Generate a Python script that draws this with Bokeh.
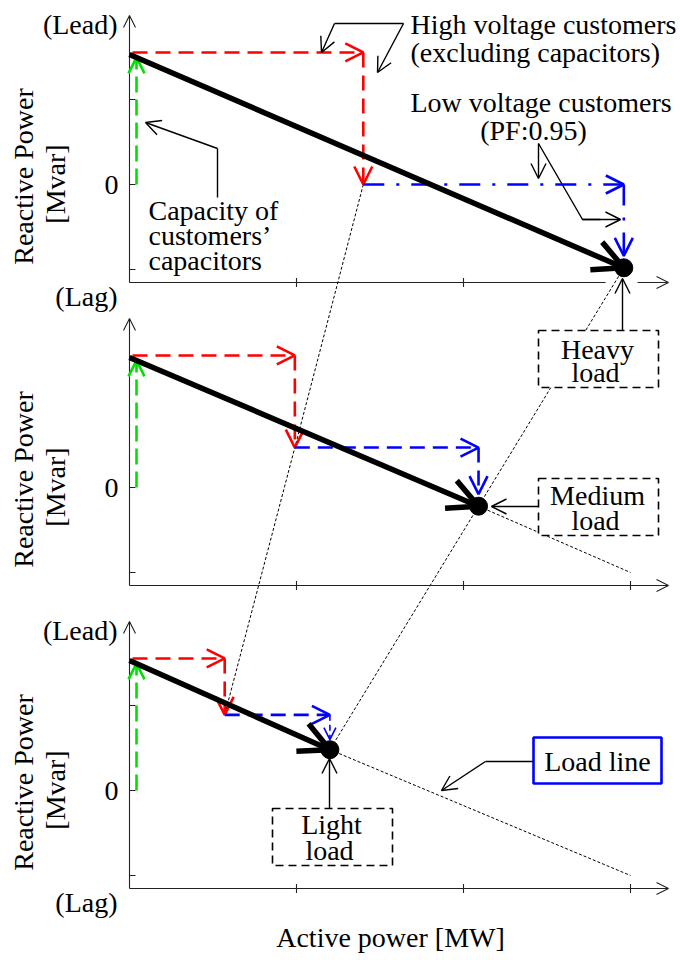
import numpy as np
from bokeh.plotting import figure
from bokeh.models import Range1d, Arrow, OpenHead, ColumnDataSource
from bokeh.core.properties import value
from bokeh.embed import file_html
from bokeh.resources import INLINE

# ---------------- data (one axis tick = 1 unit) ----------------
load_levels = ["Heavy load", "Medium load", "Light load"]
capacitor_q = [1.53, 1.53, 1.53]      # customers' capacitors (lead)
hv_p = [1.40, 0.99, 0.57]             # high voltage customers, active power
hv_q = [-1.53, -1.06, -0.64]          # high voltage customers, reactive power
lv_p = [1.56, 1.10, 0.63]             # low voltage customers (PF 0.95), active
lv_q = [-0.98, -0.69, -0.41]          # low voltage customers, reactive
load_line_end_p = [3.0, 3.0, 3.0]
load_line_end_q = [-1.0, -1.0, -1.0]
x_ticks = [[1, 2], [1, 2, 3], [1, 2, 3]]
y_ticks = [[1, 0, -1], [0, -1], [1, 0, -1]]

# derived
hv_end_q = [c + q for c, q in zip(capacitor_q, hv_q)]
total_p = [a + b for a, b in zip(hv_p, lv_p)]
total_q = [h + q for h, q in zip(hv_end_q, lv_q)]

# ---------------- layout ----------------
W, H = 680, 960
X0 = 129.0      # px of P = 0
XU = 167.0      # px per P unit
YU = 85.0       # px per Q unit
ZERO = [184.0, 487.0, 790.0]   # px of Q = 0 in each panel
FONT = value("Liberation Serif")
FS = "28px"


def fx(px):
    return (px - X0) / XU


def fy(py):
    return (ZERO[0] - py) / YU


def off(k):
    return (ZERO[0] - ZERO[k]) / YU


def Y(k, q):
    return q + off(k)


p = figure(width=W, height=H, output_backend="svg", toolbar_location=None,
           x_range=Range1d(fx(0), fx(W)), y_range=Range1d(fy(H), fy(0)),
           x_axis_location=None, y_axis_location=None,
           min_border=0, min_border_left=0, min_border_right=0,
           min_border_top=0, min_border_bottom=0)
p.grid.visible = False
p.outline_line_color = None
p.background_fill_color = "white"
p.border_fill_color = "white"

AX = "#222222"


def add_arrows(x0, y0, x1, y1, color, width, dash="solid", head=12, head_width=None):
    src = ColumnDataSource(dict(x0=x0, y0=y0, x1=x1, y1=y1))
    p.add_layout(Arrow(x_start="x0", y_start="y0", x_end="x1", y_end="y1", source=src,
                       line_color=color, line_width=width, line_dash=dash,
                       end=OpenHead(size=head, line_color=color,
                                    line_width=head_width if head_width else width)))


# ---------------- axes ----------------
ya_x0, ya_y0, ya_x1, ya_y1 = [], [], [], []
xa_x0, xa_y0, xa_x1, xa_y1 = [], [], [], []
tx0, ty0, tx1, ty1 = [], [], [], []
for k in range(3):
    ybase = off(k) - 98 / YU
    ya_x0.append(0); ya_y0.append(ybase); ya_x1.append(0); ya_y1.append(off(k) + 169 / YU)
    if k == 0:
        p.segment(x0=[0], y0=[ybase], x1=[fx(605)], y1=[ybase], line_color=AX, line_width=1.1)
        xa_x0.append(fx(637))
    else:
        xa_x0.append(0)
    xa_y0.append(ybase); xa_x1.append(fx(668)); xa_y1.append(ybase)
    for t in x_ticks[k]:
        tx0.append(t); tx1.append(t); ty0.append(ybase - 4.5 / YU); ty1.append(ybase + 4.5 / YU)
    for t in y_ticks[k]:
        tx0.append(0); tx1.append(6 / XU); ty0.append(Y(k, t)); ty1.append(Y(k, t))
p.segment(x0=tx0, y0=ty0, x1=tx1, y1=ty1, line_color=AX, line_width=1.1)
add_arrows(ya_x0, ya_y0, ya_x1, ya_y1, AX, 1.1, head=12)
add_arrows(xa_x0, xa_y0, xa_x1, xa_y1, AX, 1.1, head=12)

# ---------------- thin dotted construction lines ----------------
p.line([hv_p[k] for k in range(3)], [Y(k, hv_end_q[k]) for k in range(3)],
       line_color="black", line_width=1.0, line_dash="3 2")
p.line([total_p[k] for k in range(3)], [Y(k, total_q[k]) for k in range(3)],
       line_color="black", line_width=1.0, line_dash="3 2")
p.segment(x0=total_p, y0=[Y(k, total_q[k]) for k in range(3)],
          x1=load_line_end_p, y1=[Y(k, load_line_end_q[k]) for k in range(3)],
          line_color="black", line_width=1.0, line_dash="3 2")

# ---------------- boxes ----------------
def box(l, t, r, b, color, dash, width):
    p.quad(left=[fx(l)], right=[fx(r)], top=[fy(t)], bottom=[fy(b)],
           fill_color="white", line_color=color, line_dash=dash, line_width=width)


box(538, 330, 658, 387, "black", "8 5", 1.6)
box(538, 478, 658, 535, "black", "8 5", 1.6)
box(272, 808, 392, 865, "black", "8 5", 1.6)
box(533, 737, 661, 783, "#0000ff", "solid", 2.6)

# ---------------- component vectors ----------------
GREEN, RED, BLUE = "#00e000", "#ff0000", "#0000ff"
GX = 7 / XU
add_arrows([GX] * 3, [Y(k, 0) for k in range(3)], [GX] * 3,
           [Y(k, capacitor_q[k]) - 3 / YU for k in range(3)], GREEN, 2.6, "16 7", head=16)
add_arrows([3 / XU] * 3, [Y(k, capacitor_q[k]) + 2 / YU for k in range(3)], hv_p,
           [Y(k, capacitor_q[k]) + 2 / YU for k in range(3)], RED, 2.6, "15 8", head=18)
add_arrows(hv_p, [Y(k, capacitor_q[k]) + 2 / YU for k in range(3)], hv_p,
           [Y(k, hv_end_q[k]) for k in range(3)], RED, 2.6, "15 8", head=18)
# low voltage customers
add_arrows([hv_p[0]], [Y(0, hv_end_q[0])], [total_p[0]], [Y(0, hv_end_q[0])],
           BLUE, 2.6, "21 12 3 12", head=18)
add_arrows([total_p[0]], [Y(0, hv_end_q[0])], [total_p[0]], [Y(0, total_q[0]) + 12 / YU],
           BLUE, 2.6, "21 12 3 12", head=18)
add_arrows(hv_p[1:], [Y(k, hv_end_q[k]) for k in (1, 2)], total_p[1:],
           [Y(k, hv_end_q[k]) for k in (1, 2)], BLUE, 2.6, "15 8", head=18)
add_arrows([total_p[1]], [Y(1, hv_end_q[1])], [total_p[1]], [Y(1, total_q[1]) + 12 / YU],
           BLUE, 2.6, "15 8", head=18)
add_arrows([total_p[2]], [Y(2, hv_end_q[2])], [total_p[2]], [Y(2, total_q[2]) + 10 / YU],
           BLUE, 1.6, "6 4", head=12)
# resultant
p.scatter(total_p, [Y(k, total_q[k]) for k in range(3)], size=18, color="black")
add_arrows([0] * 3, [Y(k, capacitor_q[k]) for k in range(3)], total_p,
           [Y(k, total_q[k]) for k in range(3)], "black", 5.5, "solid", head=30)

# ---------------- callouts ----------------
CW = 1.4
p.line([fx(334), fx(403)], [fy(23), fy(23)], line_color="black", line_width=CW)
p.line([fx(217), fx(217)], [fy(197), fy(148)], line_color="black", line_width=CW)
p.line([fx(538), fx(582), fx(600)], [fy(143), fy(219), fy(219)], line_color="black", line_width=CW)
p.line([fx(533), fx(485)], [fy(761), fy(761)], line_color="black", line_width=CW)
add_arrows([fx(334), fx(403), fx(538), fx(582), fx(217), fx(622), fx(538), fx(329), fx(485)],
           [fy(23), fy(23), fy(143), fy(219), fy(148), fy(330), fy(506), fy(808), fy(761)],
           [fx(321), fx(377), fx(538), fx(620), fx(145), fx(622), fx(491), fx(329), fx(441)],
           [fy(52), fy(72), fy(178), fy(219), fy(122), fy(278), fy(506), fy(758), fy(790)],
           "black", CW, "solid", head=15)

# ---------------- texts ----------------
def txt(xs, ys, labels, align="center", angle=0.0):
    p.text(x=xs, y=ys, text=labels, text_font=FONT, text_font_size=FS,
           text_align=align, text_baseline="middle", text_color="black", angle=angle)


left_lbl = ["High voltage customers", "(excluding capacitors)", "Low voltage customers",
            "Capacity of", "customers\u2019", "capacitors"]
left_px = [(410, 23.5), (410, 51.5), (410, 101.5), (148, 209.5), (148, 235), (148, 259.5)]
txt([fx(a) for a, b in left_px], [fy(b) for a, b in left_px], left_lbl, "left")

c_lbl = ["(PF:0.95)", "Heavy", "load", "Medium", "load", "Light", "load", "Load line",
         "Active power [MW]"]
c_px = [(533, 130), (597, 348.5), (595, 371.5), (597, 494.5), (595, 519.5),
        (331, 823.5), (329, 849.5), (597, 760.5), (390, 937)]
txt([fx(a) for a, b in c_px], [fy(b) for a, b in c_px], c_lbl, "center")

r_lbl, r_x, r_y = [], [], []
for k in range(3):
    r_lbl.append("0"); r_x.append(fx(118)); r_y.append(Y(k, 0))
for k in (0, 2):
    r_lbl.append("(Lead)"); r_x.append(fx(117)); r_y.append(off(k) + (184 - 23.5) / YU)
    r_lbl.append("(Lag)"); r_x.append(fx(117)); r_y.append(off(k) - (295.5 - 184) / YU)
txt(r_x, r_y, r_lbl, "right")

txt([fx(23)] * 3, [off(k) + 8 / YU for k in range(3)], ["Reactive Power"] * 3,
    "center", np.pi / 2)
txt([fx(54.5)] * 3, [off(k) + 0.5 / YU for k in range(3)], ["[Mvar]"] * 3,
    "center", np.pi / 2)

open("out.html", "w").write(file_html(p, INLINE))
